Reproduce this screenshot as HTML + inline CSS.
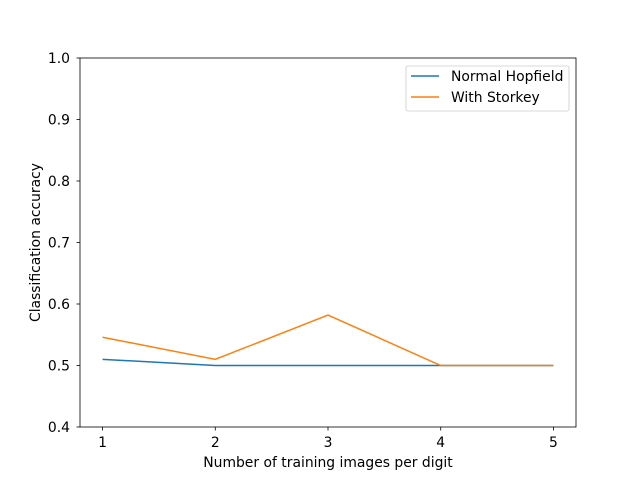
<!DOCTYPE html>
<html><head><meta charset="utf-8"><style>
body{margin:0;background:#fff;}
svg{display:block;font-family:"DejaVu Sans","Liberation Sans",sans-serif;}
</style></head><body>
<svg id="chart" width="640" height="480" viewBox="0 0 640 480">
<rect x="0" y="0" width="640" height="480" fill="#fff"/>
<g id="plot"></g>
</svg>
<script>
const categories=[1,2,3,4,5];
const normalHopfield=[0.51,0.5,0.5,0.5,0.5];
const withStorkey=[0.546,0.51,0.582,0.5,0.5];
const yTicks=[0.4,0.5,0.6,0.7,0.8,0.9,1.0];
const xTicks=[1,2,3,4,5];
const L=80,R=576,T=58,B=427;
const xMin=0.8,xMax=5.2,yMin=0.4,yMax=1.0;
const FS=13.9;
const sx=v=>L+(v-xMin)/(xMax-xMin)*(R-L);
const sy=v=>B-(v-yMin)/(yMax-yMin)*(B-T);
const NS="http://www.w3.org/2000/svg";
const g=document.getElementById('plot');
function mk(tag,attrs,parent){const e=document.createElementNS(NS,tag);for(const k in attrs)e.setAttribute(k,attrs[k]);(parent||g).appendChild(e);return e;}
function series(vals,color,name){
  const p=mk('polyline',{points:vals.map((v,i)=>sx(categories[i])+','+sy(v)).join(' '),fill:'none',stroke:color,'stroke-width':1.5});
  
  
}
series(normalHopfield,'#1f77b4','normal-hopfield-line');
series(withStorkey,'#ff7f0e','with-storkey-line');
const frame=mk('rect',{x:L,y:T,width:R-L,height:B-T,fill:'none',stroke:'#000','stroke-width':0.8});


xTicks.forEach(v=>{
  mk('line',{x1:sx(v),x2:sx(v),y1:B,y2:B+3.5,stroke:'#000','stroke-width':0.8});
  const t=mk('text',{x:sx(v),y:B+20,'font-size':FS,'text-anchor':'middle'});t.textContent=v;
  
  
});
yTicks.forEach(v=>{
  mk('line',{x1:L-3.5,x2:L,y1:sy(v),y2:sy(v),stroke:'#000','stroke-width':0.8});
  const t=mk('text',{x:L-10,y:sy(v)+5,'font-size':FS,'text-anchor':'end'});t.textContent=v.toFixed(1);
  
  
});
const xt=mk('text',{x:(L+R)/2,y:467,'font-size':FS,'text-anchor':'middle'});xt.textContent='Number of training images per digit';


const yt=mk('text',{x:0,y:0,'font-size':FS,'text-anchor':'middle',transform:'translate(40,'+((T+B)/2)+') rotate(-90)'});yt.textContent='Classification accuracy';


const lg=mk('g',{});


mk('rect',{x:406,y:66,width:163,height:45,rx:2,fill:'#fff',stroke:'#ccc','stroke-width':0.8},lg);
[['Normal Hopfield','#1f77b4',81],['With Storkey','#ff7f0e',102]].forEach(([n,c,y])=>{
  mk('line',{x1:411,x2:439,y1:y-5,y2:y-5,stroke:c,'stroke-width':1.5},lg);
  const t=mk('text',{x:451,y:y,'font-size':FS},lg);t.textContent=n;
  
  
});
</script>
</body></html>
